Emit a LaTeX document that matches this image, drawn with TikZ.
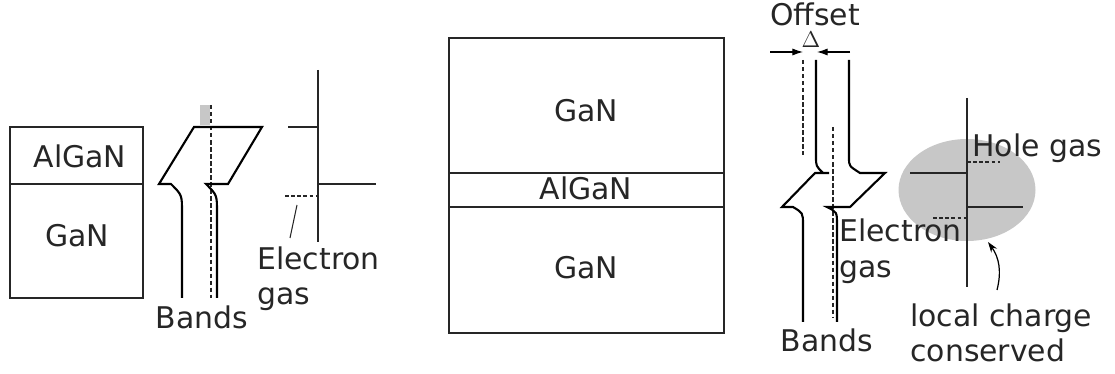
\documentclass[tikz,border=0pt]{standalone}
\usepackage{fix-cm}
\usepackage{fontspec}
\setmainfont{DejaVu Sans}
\usetikzlibrary{arrows.meta,calc}

\begin{document}
\begin{tikzpicture}[x=0.02cm,y=-0.02cm,
    every node/.style={font=\fontsize{17}{20}\selectfont,text=black!85,inner sep=0pt},
    layer/.style={draw=black!85,line width=1pt},
    band/.style={draw=black,line width=1.2pt},
    level/.style={draw=black!85,line width=1.1pt},
    fermi/.style={draw=black!85,line width=0.6pt,dash pattern=on 2.5pt off 1.5pt},
    gasline/.style={draw=black!85,line width=1pt,dash pattern=on 2pt off 1.5pt}]
    \useasboundingbox (0,0) rectangle (1115,374);
    % single interface
    \draw[layer] (10,127) rectangle (143,298);
    \draw[layer] (10,184)--(143,184);
    \node (AlGaNa) at (80,156) {AlGaN};
    \node (GaNa) at (77,236) {GaN};
    \fill[black!22] (200,105) rectangle (210,125);
    \draw[fermi] (211,105)--(211,298);
    \draw[band] (182,298)--(182,212) .. controls (182,195) .. (171,184)--(159,184)--(194,127)
        --(262,127)--(228,184)--(206,184) .. controls (217,195) .. (217,212)--(217,298);
    \node[anchor=base] (bandsa) at (202,329) {Bands};
    \coordinate (Va) at (318,70);
    \coordinate (Wa) at (318,242);
    \draw[level] (Va)--(Wa);
    \draw[level] (288,127)--(318,127);
    \draw[level] (318,184)--(376,184);
    \draw[gasline] (285,196)--(318,196);
    \node[anchor=base west] (elecA) at (257,270) {Electron};
    \node[anchor=base west] (gasA) at (257,305) {gas};
    \coordinate (Pa) at (297,205);
    \draw[line width=0.6pt,black!85] (Pa)--(290,238);
    % double interface
    \draw[layer] (449,38) rectangle (724,333);
    \draw[layer,line width=1.2pt] (449,173)--(724,173);
    \draw[layer,line width=1.2pt] (449,207)--(724,207);
    \node (GaNb) at (586,111) {GaN};
    \node (AlGaNb) at (586,188) {AlGaN};
    \node (GaNc) at (586,268) {GaN};
    % charge region
    \fill[black!22] (967,190) ellipse [x radius=1.37cm,y radius=1.02cm];
    % bands with offset
    \node[anchor=base] (offset) at (815,26) {Offset};
    \node[font=\fontsize{13}{15}\selectfont,anchor=base] (delta) at (811,48) {$\Delta$};
    \coordinate (Oa) at (770,52);
    \coordinate (Ob) at (803,52);
    \coordinate (Oc) at (850,52);
    \coordinate (Od) at (817,52);
    \draw[line width=0.6pt,-{Latex[length=6pt,width=4pt]}] (Oa)--(Ob);
    \draw[line width=0.6pt,-{Latex[length=6pt,width=4pt]}] (Oc)--(Od);
    \draw[fermi] (803,60)--(803,155);
    \draw[fermi] (833,127)--(833,317);
    \draw[band] (816,60)--(816,157) .. controls (816,166) .. (823,173)--(829,173)--(815,173)
        --(782,207)--(793,207) .. controls (803,213) .. (803,225)--(803,322);
    \draw[band] (849,60)--(849,158) .. controls (849,166) .. (860,173)--(885,173)--(850,207)
        --(827,207) .. controls (837,212) .. (837,225)--(837,322);
    \node[anchor=base] (bandsb) at (827,352) {Bands};
    \node[anchor=base west] (elecB) at (839,242) {Electron};
    \node[anchor=base west] (gasB) at (839,278) {gas};
    \coordinate (Vb) at (967,98);
    \coordinate (Wb) at (967,287);
    \draw[level] (Vb)--(Wb);
    \draw[level] (910,173)--(967,173);
    \draw[level] (967,207)--(1023,207);
    \draw[gasline] (967,162)--(1000,162);
    \draw[gasline] (933,218)--(967,218);
    \node[anchor=base west] (hole) at (972,157) {Hole gas};
    \node[anchor=base west] (local) at (910,327) {local charge};
    \node[anchor=base west] (cons) at (910,362) {conserved};
    \coordinate (Ca) at (997,290);
    \coordinate (Cb) at (988,242);
    \draw[line width=0.7pt,-{Stealth[length=6pt,width=4pt]}] (Ca) to[bend right=25] (Cb);
\end{tikzpicture}
\end{document}
